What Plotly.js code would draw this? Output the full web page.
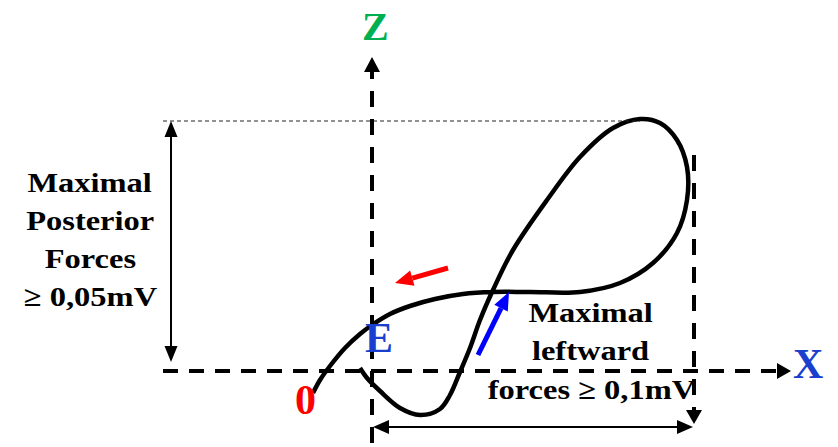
<!DOCTYPE html>
<html>
<head>
<meta charset="utf-8">
<script src="https://cdn.plot.ly/plotly-3.0.1.min.js"></script>
<style>
  html, body { margin: 0; padding: 0; background: #ffffff; }
  #chart { width: 838px; height: 447px; }
</style>
</head>
<body>
<div id="chart"></div>
<script>
// Vector loop (horizontal X / vertical Z), drawing units with Z growing downward on screen
const loopX = [313, 320, 330, 345, 360, 372, 390, 410, 435, 463, 493, 530, 580, 620, 653, 677, 687, 687, 677, 660, 640, 613, 580, 547, 513, 493, 480, 470, 460, 450, 440, 420, 400, 380, 367, 360];
const loopZ = [393, 380, 366, 348, 334, 325, 314, 306, 299, 294, 292, 292, 292, 283, 263, 233, 200, 167, 140, 123, 119, 128, 157, 200, 250, 290, 320, 348, 372, 395, 409, 415, 408, 391, 378, 368];

// Labels
const axisLabels = { x: 'X', z: 'Z' };
const pointLabels = { start: '0', e: 'E' };
const posteriorLabel = ['Maximal', 'Posterior', 'Forces', '≥ 0,05mV'];
const leftwardLabel = ['Maximal', 'leftward', 'forces ≥ 0,1mV'];

// Origin E and extents
const origin = { x: 372, z: 371 };
const maxPosteriorZ = 121;
const maxLeftwardX = 694;

const shapes = [];
const annotations = [];

function line(x0, y0, x1, y1, color, width, dash) {
  shapes.push({
    type: 'line', xref: 'x', yref: 'y', x0: x0, y0: y0, x1: x1, y1: y1,
    line: { color: color, width: width, dash: dash || 'solid' }, layer: 'above'
  });
}

// Filled triangular head: tip point, direction from (fx,fy) toward tip
function head(tx, ty, fx, fy, len, half, color) {
  const dx = tx - fx, dy = ty - fy;
  const d = Math.sqrt(dx * dx + dy * dy);
  const ux = dx / d, uy = dy / d;
  const bx = tx - ux * len, by = ty - uy * len;
  const nx = -uy * half, ny = ux * half;
  shapes.push({
    type: 'path', xref: 'x', yref: 'y',
    path: 'M' + tx + ',' + ty + ' L' + (bx + nx) + ',' + (by + ny) + ' L' + (bx - nx) + ',' + (by - ny) + ' Z',
    fillcolor: color, line: { color: color, width: 0 }, layer: 'above'
  });
  return [bx, by];
}

function arrow(fx, fy, tx, ty, color, width, len, half, dash) {
  const b = head(tx, ty, fx, fy, len, half, color);
  line(fx, fy, b[0], b[1], color, width, dash);
}

// Thin dashed reference at the loop's highest point
line(163, maxPosteriorZ, 640, maxPosteriorZ, '#222222', 1, '4px,3px');

// Dashed axes
arrow(163, origin.z, 791, origin.z, '#000000', 4, 14, 8, '15px,11px');
arrow(origin.x, 443, origin.x, 57, '#000000', 4, 15, 8, '16px,12px');

// Dashed drop from the maximal leftward point
arrow(maxLeftwardX, 155, maxLeftwardX, 424, '#000000', 4, 14, 8, '16px,12px');

// Double-headed dimension arrows
(function () {
  const b1 = head(171, maxPosteriorZ, 171, 362, 16, 6.5, '#000000');
  const b2 = head(171, 362, 171, maxPosteriorZ, 16, 6.5, '#000000');
  line(b1[0], b1[1], b2[0], b2[1], '#000000', 2);
  const c1 = head(origin.x + 1, 427, maxLeftwardX, 427, 16, 7, '#000000');
  const c2 = head(maxLeftwardX - 1, 427, origin.x, 427, 16, 7, '#000000');
  line(c1[0], c1[1], c2[0], c2[1], '#000000', 2);
})();

// Direction arrows along the loop
arrow(448, 268, 395, 283, '#ff0000', 5, 18, 8);
arrow(478, 355, 509, 292, '#0000ff', 5, 18, 7.5);

const serif = 'Liberation Serif';
function label(text, x, y, size, color) {
  annotations.push({
    xref: 'x', yref: 'y', x: x, y: y, text: '<b>' + text + '</b>', showarrow: false,
    xanchor: 'center', yanchor: 'middle', align: 'center',
    font: { family: serif, size: size, color: color }
  });
}

label(axisLabels.z, 375, 26, 40, '#00b050');
label(axisLabels.x, 808, 364, 42, '#1a3fcf');
label(pointLabels.e, 379, 338, 42, '#1a3fcf');
label(pointLabels.start, 305, 400, 42, '#ff0000');

// Stacked text blocks, one line each
const firstBlockIndex = annotations.length;
const leftRows = [182, 220, 258, 296];
posteriorLabel.forEach(function (t, i) { label(t, 90, leftRows[i], 28, '#000000'); });
const rightRows = [312, 350, 389];
leftwardLabel.forEach(function (t, i) { label(t, 591, rightRows[i], 28, '#000000'); });

const traces = [{
  type: 'scatter', mode: 'lines', x: loopX, y: loopZ,
  line: { color: '#000000', width: 4.5, shape: 'spline', smoothing: 1 },
  hoverinfo: 'skip'
}];

const layout = {
  width: 838, height: 447,
  margin: { l: 0, r: 0, t: 0, b: 0, pad: 0 },
  paper_bgcolor: '#ffffff', plot_bgcolor: '#ffffff',
  showlegend: false,
  xaxis: { range: [0, 838], visible: false, fixedrange: true },
  yaxis: { range: [447, 0], visible: false, fixedrange: true },
  shapes: shapes,
  annotations: annotations
};

Plotly.newPlot('chart', traces, layout, { staticPlot: true, displayModeBar: false }).then(function (gd) {
  // The caption lettering is set slightly wide
  gd.querySelectorAll('.annotation').forEach(function (g) {
    if (+g.getAttribute('data-index') >= firstBlockIndex) {
      const t = g.querySelector('text.annotation-text');
      if (t) {
        t.style.transformBox = 'fill-box';
        t.style.transformOrigin = 'center';
        t.style.transform = 'scaleX(1.16)';
      }
    }
  });
});
</script>
</body>
</html>
